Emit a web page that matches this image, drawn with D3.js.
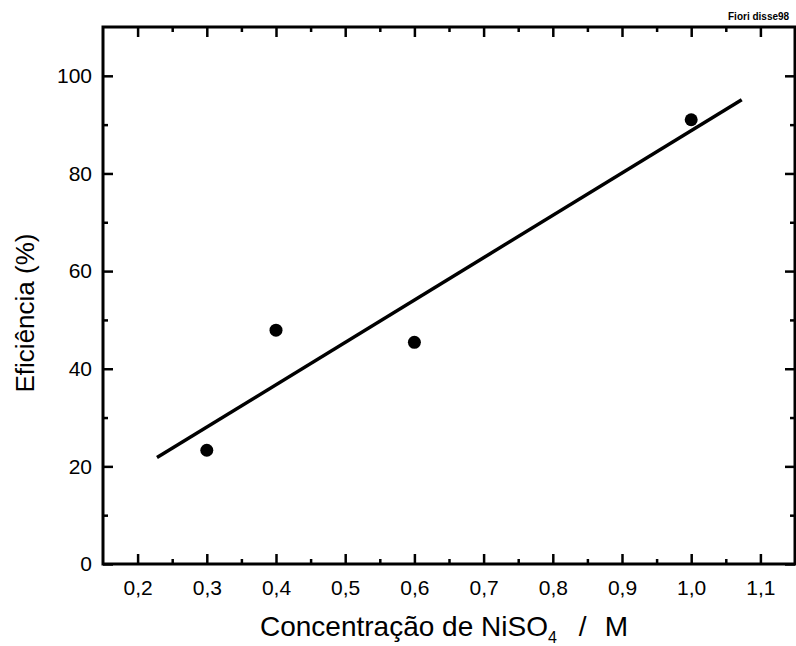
<!DOCTYPE html>
<html>
<head>
<meta charset="utf-8">
<script src="https://cdn.jsdelivr.net/npm/d3@7"></script>
<style>
  html, body { margin: 0; padding: 0; background: #fff; }
  svg { display: block; }
  text { font-family: "Liberation Sans", Arial, sans-serif; fill: #000; }
</style>
</head>
<body>
<svg id="chart" width="796" height="646"></svg>
<script>
// Measured efficiency vs NiSO4 concentration
const concentration = [0.3, 0.4, 0.6, 1.0];
const efficiency = [23.3, 47.9, 45.4, 91.0];

// Linear fit line end points
const fitX = [0.228, 1.073];
const fitY = [21.8, 95.1];

// Axis ticks
const xMajorTicks = [0.2, 0.3, 0.4, 0.5, 0.6, 0.7, 0.8, 0.9, 1.0, 1.1];
const xMinorTicks = [0.25, 0.35, 0.45, 0.55, 0.65, 0.75, 0.85, 0.95, 1.05];
const yMajorTicks = [0, 20, 40, 60, 80, 100];
const yMinorTicks = [10, 30, 50, 70, 90];

const svg = d3.select("#chart");
const plotLeft = 103, plotRight = 795, plotTop = 27, plotBottom = 564;

const x = d3.scaleLinear().domain([0.15, 1.15]).range([plotLeft, plotRight]);
const y = d3.scaleLinear().domain([0, 110]).range([plotBottom, plotTop]);

const fmt = v => d3.format(".1f")(v).replace(".", ",");

// Frame
svg.append("rect")
  .attr("x", plotLeft).attr("y", plotTop)
  .attr("width", plotRight - plotLeft).attr("height", plotBottom - plotTop)
  .attr("fill", "none").attr("stroke", "#000").attr("stroke-width", 3);

const MAJ = 10, MIN = 5;

function styleAxis(g) {
  g.select(".domain").remove();
  g.selectAll("line").attr("stroke-width", 2.5);
  g.selectAll("text").attr("font-size", 21).attr("font-family", "Liberation Sans, Arial, sans-serif");
}

// Bottom axis (inward ticks, labels)
svg.append("g").attr("transform", `translate(0,${plotBottom})`)
  .call(d3.axisBottom(x).tickValues(xMajorTicks).tickSizeInner(-MAJ).tickSizeOuter(0).tickPadding(16).tickFormat(fmt))
  .call(styleAxis);
svg.append("g").attr("transform", `translate(0,${plotBottom})`)
  .call(d3.axisBottom(x).tickValues(xMinorTicks).tickSizeInner(-MIN).tickSizeOuter(0).tickFormat(""))
  .call(styleAxis);

// Top axis (inward ticks, no labels)
svg.append("g").attr("transform", `translate(0,${plotTop})`)
  .call(d3.axisTop(x).tickValues(xMajorTicks).tickSizeInner(-MAJ).tickSizeOuter(0).tickFormat(""))
  .call(styleAxis);
svg.append("g").attr("transform", `translate(0,${plotTop})`)
  .call(d3.axisTop(x).tickValues(xMinorTicks).tickSizeInner(-MIN).tickSizeOuter(0).tickFormat(""))
  .call(styleAxis);

// Left axis
svg.append("g").attr("transform", `translate(${plotLeft},0)`)
  .call(d3.axisLeft(y).tickValues(yMajorTicks).tickSizeInner(-MAJ).tickSizeOuter(0).tickPadding(11).tickFormat(d3.format("d")))
  .call(styleAxis);
svg.append("g").attr("transform", `translate(${plotLeft},0)`)
  .call(d3.axisLeft(y).tickValues(yMinorTicks).tickSizeInner(-MIN).tickSizeOuter(0).tickFormat(""))
  .call(styleAxis);

// Right axis
svg.append("g").attr("transform", `translate(${plotRight},0)`)
  .call(d3.axisRight(y).tickValues(yMajorTicks).tickSizeInner(-MAJ).tickSizeOuter(0).tickFormat(""))
  .call(styleAxis);
svg.append("g").attr("transform", `translate(${plotRight},0)`)
  .call(d3.axisRight(y).tickValues(yMinorTicks).tickSizeInner(-MIN).tickSizeOuter(0).tickFormat(""))
  .call(styleAxis);

// Fit line
const fitData = fitX.map((v, i) => [v, fitY[i]]);
svg.append("path")
  .datum(fitData)
  .attr("d", d3.line().x(d => x(d[0])).y(d => y(d[1])))
  .attr("fill", "none").attr("stroke", "#000").attr("stroke-width", 3.5);

// Data points
svg.append("g").selectAll("circle")
  .data(concentration.map((c, i) => [c, efficiency[i]]))
  .join("circle")
  .attr("cx", d => x(d[0])).attr("cy", d => y(d[1]))
  .attr("r", 6.5).attr("fill", "#000");

// Axis titles
svg.append("text")
  .attr("transform", "translate(34,313) rotate(-90)")
  .attr("text-anchor", "middle")
  .attr("font-size", 26)
  .text("Eficiência (%)");

const xt = svg.append("text")
  .attr("x", 260).attr("y", 636)
  .attr("font-size", 28);
xt.append("tspan").text("Concentração de NiSO");
xt.append("tspan").attr("font-size", 16).attr("dy", 7).text("4");
xt.append("tspan").attr("dy", -7).attr("dx", 22).text("/");
xt.append("tspan").attr("dx", 18).text("M");

// Corner tag
svg.append("text")
  .attr("x", 728).attr("y", 20)
  .attr("font-size", 10).attr("font-weight", "bold")
  .text("Fiori disse98");
</script>
</body>
</html>
